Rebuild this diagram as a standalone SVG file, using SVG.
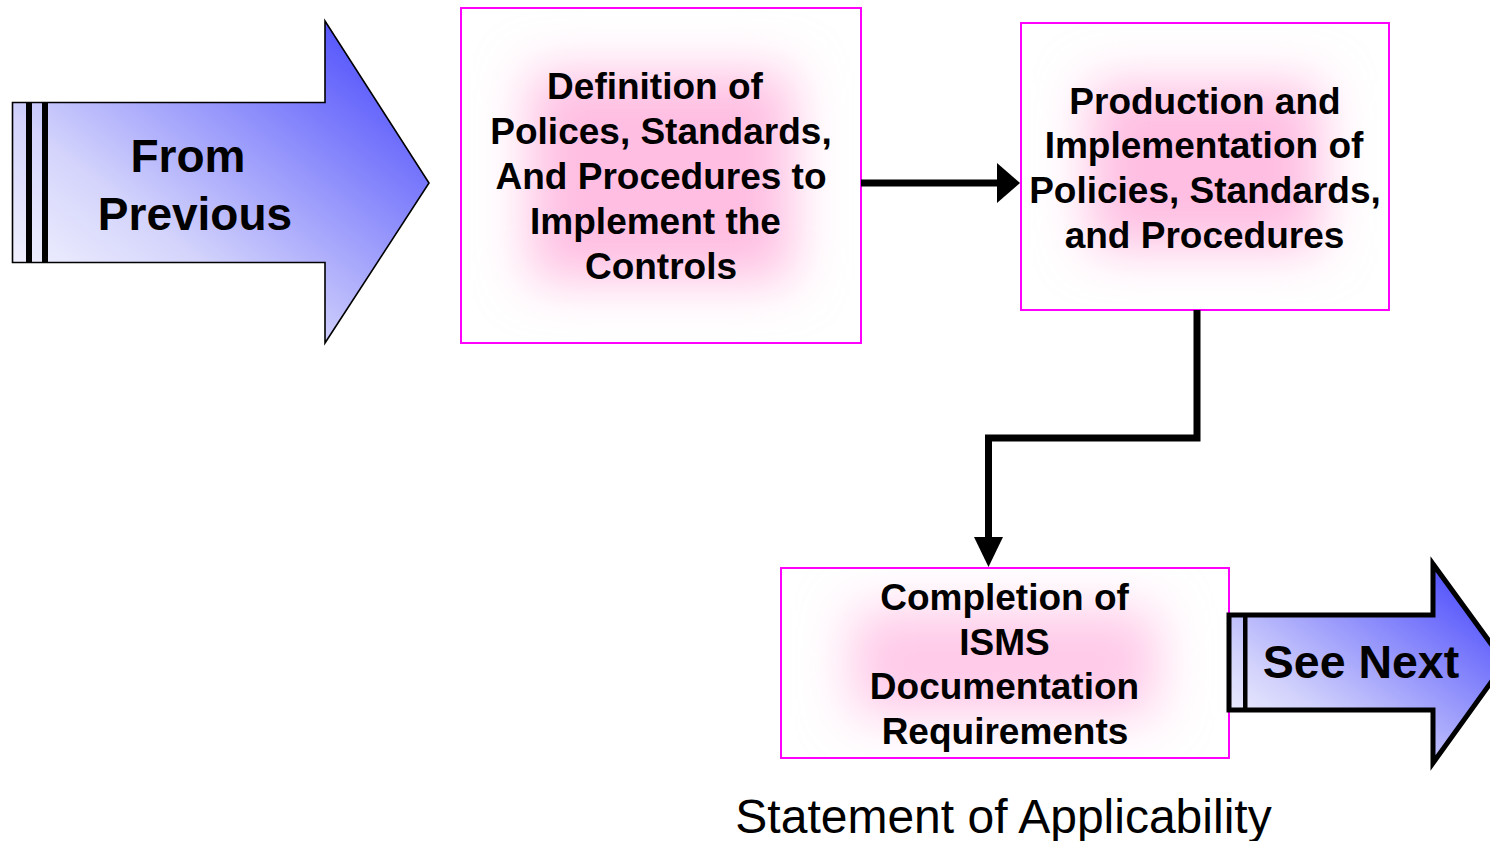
<svg xmlns="http://www.w3.org/2000/svg" width="1490" height="841" viewBox="0 0 1490 841">
<style>
.t{font-family:"Liberation Sans",Arial,sans-serif;font-weight:bold;fill:#000;text-anchor:middle}
.box{fill:none;stroke:#ff00ff;stroke-width:2}
.bg{fill:#fff}
.pink{fill:#ffbee2;filter:url(#soft)}
.conn{fill:none;stroke:#000;stroke-width:7;stroke-linejoin:miter}
</style>
<defs>
<filter id="soft" x="-60%" y="-60%" width="220%" height="220%"><feGaussianBlur stdDeviation="26"/></filter>
<linearGradient id="blue1" x1="0" y1="1" x2="1" y2="0">
<stop offset="0" stop-color="#ffffff"/>
<stop offset="0.35" stop-color="#d4d4fc"/>
<stop offset="1" stop-color="#3a3afc"/>
</linearGradient>
<linearGradient id="blue2" x1="0" y1="1" x2="1" y2="0">
<stop offset="0" stop-color="#ffffff"/>
<stop offset="0.3" stop-color="#d0d0fc"/>
<stop offset="1" stop-color="#3838fc"/>
</linearGradient>
<clipPath id="c1"><rect x="460" y="7" width="401" height="336"/></clipPath>
<clipPath id="c2"><rect x="1020" y="22" width="369" height="288"/></clipPath>
<clipPath id="c3"><rect x="780" y="567" width="449" height="191"/></clipPath>
</defs>
<rect width="1490" height="841" fill="#fff"/>

<g id="from-previous">
<path d="M12.5,102.5 H325 V21 L429,183 L325,343 V262.5 H12.5 Z" fill="url(#blue1)" stroke="#000" stroke-width="1.6"/>
<rect x="26" y="103" width="6" height="159" fill="#000"/>
<rect x="42" y="103" width="6" height="159" fill="#000"/>
<text class="t" x="188" y="172" font-size="46">From</text>
<text class="t" x="195" y="230" font-size="46">Previous</text>
</g>

<g id="definition">
<rect class="bg" x="461" y="8" width="400" height="335"/>
<g clip-path="url(#c1)"><rect class="pink" x="530" y="72" width="262" height="208"/></g>
<rect class="box" x="461" y="8" width="400" height="335"/>
<text class="t" font-size="37"><tspan x="655" y="99">Definition of</tspan><tspan x="661" y="144">Polices, Standards,</tspan><tspan x="661" y="189">And Procedures to</tspan><tspan x="655.5" y="234">Implement the</tspan><tspan x="661" y="279">Controls</tspan></text>
</g>

<g id="production">
<rect class="bg" x="1021" y="23" width="368" height="287"/>
<g clip-path="url(#c2)"><rect class="pink" x="1090" y="84" width="230" height="164"/></g>
<rect class="box" x="1021" y="23" width="368" height="287"/>
<text class="t" font-size="37"><tspan x="1205" y="114">Production and</tspan><tspan x="1204" y="158">Implementation of</tspan><tspan x="1205" y="203">Policies, Standards,</tspan><tspan x="1204.5" y="248">and Procedures</tspan></text>
</g>

<g id="completion">
<rect class="bg" x="781" y="568" width="448" height="190"/>
<g clip-path="url(#c3)"><rect class="pink" x="852" y="610" width="305" height="105" style="fill:#ffc9e8"/></g>
<rect class="box" x="781" y="568" width="448" height="190"/>
<text class="t" font-size="37"><tspan x="1004.5" y="610">Completion of</tspan><tspan x="1004.5" y="655">ISMS</tspan><tspan x="1004.5" y="699">Documentation</tspan><tspan x="1005" y="744">Requirements</tspan></text>
</g>

<g id="see-next">
<path d="M1229,615 H1433 V564 L1505,663 L1433,763 V710 H1229 Z" fill="url(#blue2)" stroke="#000" stroke-width="5"/>
<rect x="1243" y="616" width="4.5" height="93" fill="#000"/>
<text class="t" x="1361" y="678" font-size="46.5">See Next</text>
</g>

<g id="connectors">
<line class="conn" x1="861" y1="183" x2="999" y2="183"/>
<polygon points="997,163 1020,183 997,203" fill="#000"/>
<polyline class="conn" points="1197,310 1197,438 988.5,438 988.5,540" stroke-width="6"/>
<polygon points="974,537 1003,537 988.5,567" fill="#000"/>
</g>

<text id="soa" x="1003.5" y="833" font-family="'Liberation Sans',Arial,sans-serif" font-size="48" text-anchor="middle" fill="#000">Statement of Applicability</text>
</svg>
